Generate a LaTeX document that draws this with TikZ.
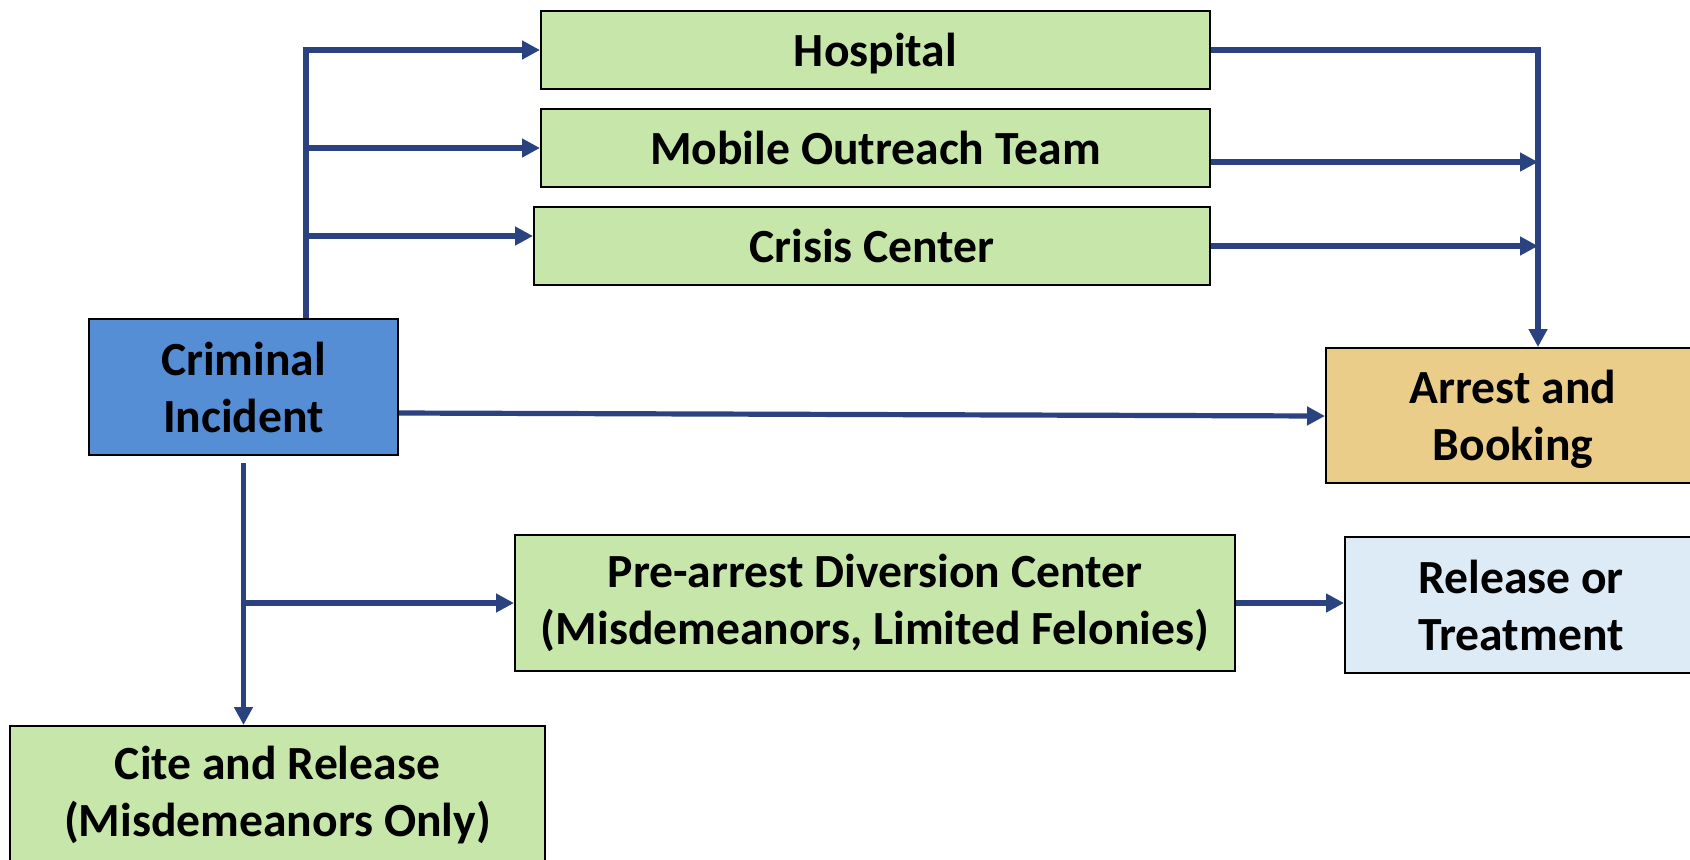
\documentclass[tikz,border=0pt]{standalone}
\usepackage{fontspec}
\setmainfont{Carlito}
\usetikzlibrary{arrows.meta,calc}
\definecolor{lineblue}{RGB}{42,66,128}
\definecolor{boxgreen}{RGB}{199,230,169}
\definecolor{boxblue}{RGB}{85,142,213}
\definecolor{boxgold}{RGB}{234,205,137}
\definecolor{boxpale}{RGB}{221,235,247}
\begin{document}
\begin{tikzpicture}[x=0.5pt,y=-0.5pt,
  box/.style={draw=black, line width=1pt, inner sep=0pt, align=center,
    font=\fontsize{23.8pt}{28.5pt}\selectfont\bfseries},
  txt/.style={inner sep=0pt, align=center,
    font=\fontsize{23.8pt}{28.5pt}\selectfont\bfseries},
  arr/.style={draw=lineblue, line width=2.6pt,
    -{Triangle[length=9pt,width=9pt]}}]
\clip (0,0) rectangle (1690,859);
\fill[white] (0,0) rectangle (1690,859);

\node[box, fill=boxgreen, minimum width=334.5pt, minimum height=39pt, text depth=0pt] (hosp) at (875.5,50) {Hospital};
\node[box, fill=boxgreen, minimum width=334.5pt, minimum height=39pt] (mob) at (875.5,148) {Mobile Outreach Team};
\node[box, fill=boxgreen, minimum width=338pt, minimum height=39pt] (crisis) at (872,246) {Crisis Center};
\node[box, fill=boxblue, minimum width=154.5pt, minimum height=68pt] (crim) at (243.5,387) {Criminal\\Incident};
\node[box, fill=boxgold, minimum width=187pt, minimum height=67.5pt] (arrest) at (1513,415.5) {};
\node[txt] (arresttxt) at ($(arrest.center)+(0,4)$) {Arrest and\\Booking};
\node[box, fill=boxgreen, minimum width=360pt, minimum height=68pt] (pre) at (875,603) {Pre-arrest Diversion Center\\(Misdemeanors, Limited Felonies)};
\node[box, fill=boxpale, minimum width=176pt, minimum height=68pt] (release) at (1521,605) {Release or\\Treatment};
\node[box, fill=boxgreen, minimum width=267.5pt, minimum height=69pt] (cite) at (277.5,795) {Cite and Release\\(Misdemeanors Only)};

\coordinate (tx) at (306,0);
\coordinate (rx) at (1538,0);
\coordinate (cy) at (0,236);
\coordinate (my) at (0,162);
\coordinate (ay) at (0,413);
\coordinate (by) at (0,416);

% upper left trunk
\draw[arr] (crim.north -| tx) |- (hosp.west);
\draw[arr] (tx |- mob.west) -- (mob.west);
\draw[arr] (tx |- cy) -- (crisis.west |- cy);

% right trunk
\draw[arr] (hosp.east) -| (arrest.north -| rx);
\draw[arr] (mob.east |- my) -- (rx |- my);
\draw[arr] (crisis.east) -- (rx |- crisis.east);

% criminal to arrest
\draw[arr] (crim.east |- ay) -- (arrest.west |- by);

% lower trunk
\draw[arr] ($(crim.south)+(0,7)$) -- (cite.north -| crim.south);
\draw[arr] (crim.south |- pre.west) -- (pre.west);
\draw[arr] (pre.east) -- (release.west |- pre.east);
\end{tikzpicture}
\end{document}
